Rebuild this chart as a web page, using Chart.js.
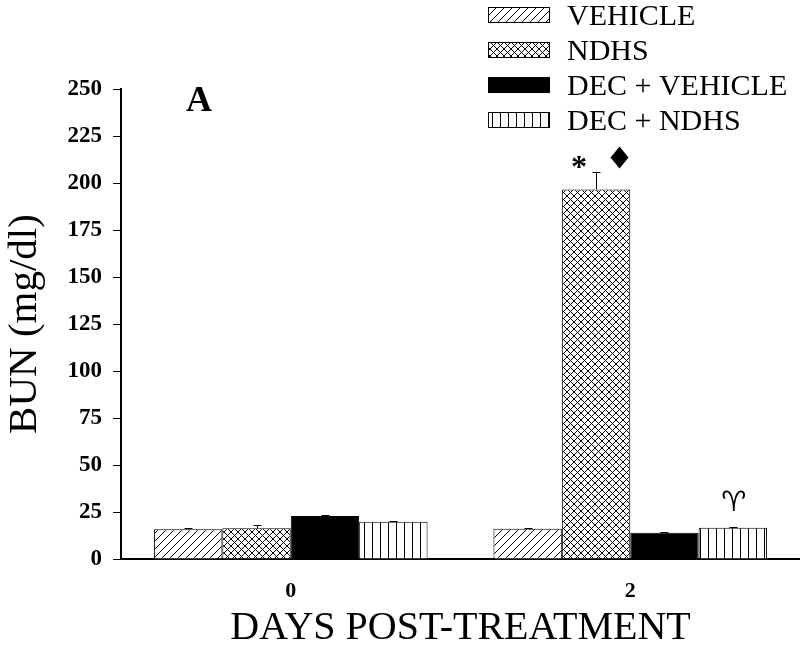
<!DOCTYPE html>
<html>
<head>
<meta charset="utf-8">
<script src="https://cdn.jsdelivr.net/npm/chart.js@4.4.0/dist/chart.umd.min.js"></script>
<style>
  html, body { margin: 0; padding: 0; background: #fff; }
  #wrap { width: 800px; height: 649px; }
</style>
</head>
<body>
<div id="wrap"><canvas id="bunChart" width="800" height="649"></canvas></div>
<script>
// BUN values
const days = ['0', '2'];
const seriesNames = ['VEHICLE', 'NDHS', 'DEC + VEHICLE', 'DEC + NDHS'];
const vehicle = [15.8, 16.1];
const ndhs = [16.3, 196.6];
const decVehicle = [22.9, 14];
const decNdhs = [19.8, 16.6];
const vehicleErr = [0.5, 0.5];
const ndhsErr = [1.6, 9.1];
const decVehicleErr = [0.5, 0.5];
const decNdhsErr = [0.5, 0.5];
const yTicks = [0, 25, 50, 75, 100, 125, 150, 175, 200, 225, 250];

const serif = "'Liberation Serif', 'DejaVu Serif', serif";

// hatch patterns
function makePattern(kind) {
  const c = document.createElement('canvas');
  const s = kind === 'cross' ? 7 : 8;
  c.width = s; c.height = s;
  const g = c.getContext('2d');
  g.fillStyle = '#fff';
  g.fillRect(0, 0, s, s);
  g.strokeStyle = '#000';
  g.lineWidth = 1;
  g.beginPath();
  if (kind === 'diag' || kind === 'cross') {
    g.moveTo(-1, s + 1); g.lineTo(s + 1, -1);
    g.moveTo(-1, 1); g.lineTo(1, -1);
    g.moveTo(s - 1, s + 1); g.lineTo(s + 1, s - 1);
  }
  if (kind === 'cross') {
    g.moveTo(-1, -1); g.lineTo(s + 1, s + 1);
    g.moveTo(s - 1, -1); g.lineTo(s + 1, 1);
    g.moveTo(-1, s - 1); g.lineTo(1, s + 1);
  }
  if (kind === 'vert') {
    g.moveTo(4.5, 0); g.lineTo(4.5, s);
  }
  g.stroke();
  return g.createPattern(c, 'repeat');
}

const fills = [makePattern('diag'), makePattern('cross'), '#000', makePattern('vert')];
const errs = [vehicleErr, ndhsErr, decVehicleErr, decNdhsErr];

const errorBars = {
  id: 'errorBars',
  afterDatasetsDraw(chart) {
    const ctx = chart.ctx;
    const y = chart.scales.y;
    ctx.save();
    ctx.strokeStyle = '#000';
    ctx.lineWidth = 1;
    chart.data.datasets.forEach((ds, i) => {
      chart.getDatasetMeta(i).data.forEach((bar, j) => {
        const top = Math.round(y.getPixelForValue(ds.data[j] + errs[i][j])) + 0.5;
        const x = Math.round(bar.x) + 0.5;
        ctx.beginPath();
        ctx.moveTo(x, bar.y);
        ctx.lineTo(x, top);
        ctx.moveTo(x - 4, top);
        ctx.lineTo(x + 4, top);
        ctx.stroke();
      });
    });
    ctx.restore();
  }
};

// significance marks and panel letter
const marks = {
  id: 'marks',
  afterDraw(chart) {
    const ctx = chart.ctx;
    const y = chart.scales.y;
    const nd = chart.getDatasetMeta(1).data[1];
    const dn = chart.getDatasetMeta(3).data[1];
    ctx.save();
    ctx.fillStyle = '#000';
    ctx.textAlign = 'center';
    ctx.textBaseline = 'middle';
    ctx.font = 'bold 36px ' + serif;
    ctx.fillText('A', chart.chartArea.left + 78, y.getPixelForValue(243));

    const py = y.getPixelForValue(212.5);
    ctx.font = 'bold 32px ' + serif;
    ctx.textBaseline = 'alphabetic';
    ctx.fillText('*', nd.x - 17, py + 17);
    // diamond
    const dx = nd.x + 23.5;
    const dy = py - 2;
    ctx.beginPath();
    ctx.moveTo(dx, dy - 11);
    ctx.lineTo(dx + 9, dy);
    ctx.lineTo(dx, dy + 11);
    ctx.lineTo(dx - 9, dy);
    ctx.closePath();
    ctx.fill();

    ctx.textBaseline = 'middle';
    ctx.font = "bold 28px 'DejaVu Sans', sans-serif";
    ctx.fillText('\u2648', dn.x + 1, y.getPixelForValue(decNdhs[1] + 13));
    ctx.restore();
  }
};

const boxLegend = {
  id: 'boxLegend',
  afterDraw(chart) {
    const ctx = chart.ctx;
    ctx.save();
    ctx.font = '30px ' + serif;
    ctx.textBaseline = 'middle';
    ctx.textAlign = 'left';
    seriesNames.forEach((name, i) => {
      const cy = 15 + i * 35;
      ctx.fillStyle = fills[i];
      ctx.fillRect(488, cy - 8, 62, 16);
      ctx.strokeStyle = '#000';
      ctx.lineWidth = 1;
      ctx.strokeRect(488.5, cy - 7.5, 61, 15);
      ctx.fillStyle = '#000';
      ctx.fillText(name, 567, cy + 2);
    });
    ctx.restore();
  }
};

new Chart(document.getElementById('bunChart'), {
  type: 'bar',
  data: {
    labels: days,
    datasets: [vehicle, ndhs, decVehicle, decNdhs].map((d, i) => ({
      label: seriesNames[i],
      data: d,
      backgroundColor: fills[i],
      borderColor: '#000',
      borderWidth: 1,
      borderSkipped: 'bottom',
      categoryPercentage: 0.806,
      barPercentage: 1.0
    }))
  },
  options: {
    responsive: false,
    animation: false,
    layout: { padding: { top: 89, right: 0, bottom: 0, left: 0 } },
    plugins: { legend: { display: false }, tooltip: { enabled: false } },
    scales: {
      x: {
        afterFit(scale) { scale.height = 90; },
        grid: { display: false, drawTicks: false },
        border: { color: '#000', width: 2 },
        ticks: { color: '#000', padding: 19, font: { family: serif, size: 22, weight: 'bold' } },
        title: { display: true, text: 'DAYS POST-TREATMENT', color: '#000', padding: { top: 0, bottom: 0 }, font: { family: serif, size: 40, lineHeight: 1.05 } }
      },
      y: {
        min: 0,
        max: 250,
        afterFit(scale) { scale.width = 121; },
        afterBuildTicks(scale) {
          const t = [];
          for (let v = 0; v <= 250; v += 12.5) t.push({ value: v });
          scale.ticks = t;
        },
        grid: { drawOnChartArea: false, color: '#000', tickLength: 8, tickWidth: 1 },
        border: { color: '#000', width: 2 },
        ticks: {
          color: '#000',
          padding: 11,
          font: { family: serif, size: 23, weight: 'bold' },
          callback: (v) => yTicks.includes(v) ? String(v) : ''
        },
        title: { display: true, text: 'BUN (mg/dl)', color: '#000', padding: { top: 1, bottom: 0 }, font: { family: serif, size: 41 } }
      }
    }
  },
  plugins: [errorBars, marks, boxLegend]
});
</script>
</body>
</html>
